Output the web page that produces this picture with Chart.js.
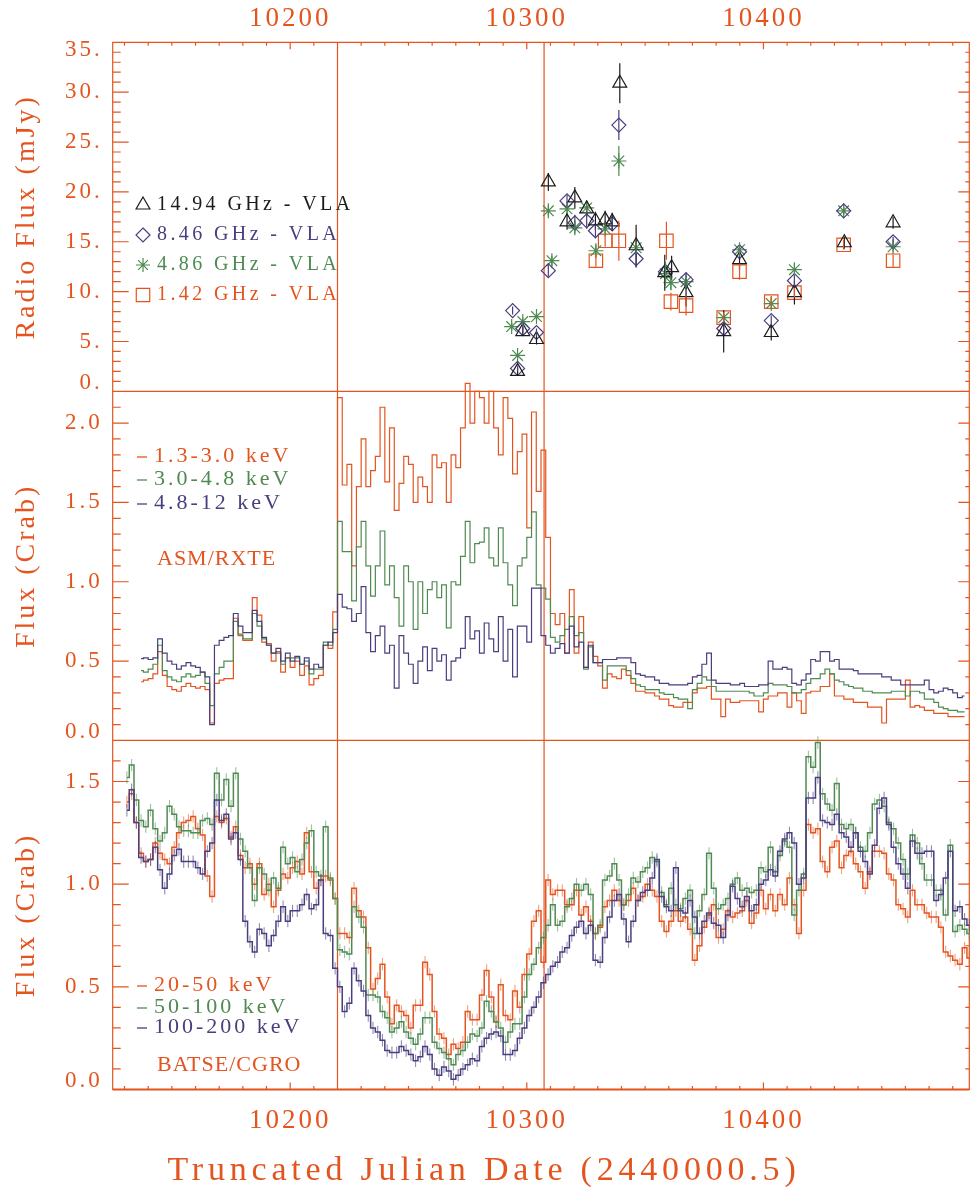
<!DOCTYPE html>
<html>
<head>
<meta charset="utf-8">
<script src="https://cdn.jsdelivr.net/npm/chart.js@4.4.1/dist/chart.umd.min.js"></script>
<style>
  html, body { margin: 0; padding: 0; background: #ffffff; }
  canvas { display: block; }
</style>
</head>
<body>
<canvas id="lc" width="980" height="1187"></canvas>
<script>
// ---------------- Time axis ----------------
const xMin = 10125;
const xMax = 10487;
const xTickLabels = [10200, 10300, 10400];
const eventDays = [10220.0, 10307.3];

// ---------------- VLA radio flux densities (mJy) ----------------
const vla1494Days = [10296.1, 10298.3, 10304.1, 10309.1, 10317.0, 10320.3, 10325.3, 10329.0, 10333.1, 10336.1, 10339.3, 10346.2, 10358.3, 10361.2, 10367.3, 10383.2, 10389.9, 10403.3, 10413.1, 10434.2, 10454.8];
const vla1494Flux = [2.0, 6.0, 5.2, 21.0, 17.0, 19.4, 18.3, 17.1, 17.2, 17.0, 30.9, 14.6, 11.9, 12.4, 9.9, 6.0, 13.2, 5.9, 9.9, 14.9, 16.9];
const vla1494Err  = [0.4, 0.4, 0.5, 0.9, 0.8, 1.1, 0.8, 0.9, 0.9, 0.9, 2.0, 2.1, 1.8, 1.2, 1.4, 2.1, 1.0, 0.8, 1.2, 0.6, 0.6];

const vla846Days = [10294.0, 10296.1, 10298.3, 10304.1, 10309.1, 10317.0, 10320.3, 10325.3, 10329.0, 10336.1, 10338.9, 10346.2, 10358.6, 10367.3, 10383.2, 10389.9, 10403.3, 10413.1, 10433.9, 10454.8];
const vla846Flux = [8.1, 2.3, 6.3, 5.9, 12.1, 19.1, 16.9, 17.1, 16.1, 16.8, 26.7, 13.3, 12.0, 11.2, 6.3, 14.0, 7.1, 11.1, 18.1, 15.0];
const vla846Err  = [0.4, 0.3, 0.4, 0.4, 0.6, 0.6, 0.8, 0.8, 0.6, 0.6, 1.5, 0.9, 0.9, 0.7, 0.5, 0.6, 0.5, 0.6, 0.4, 0.5];

const vla486Days = [10293.6, 10296.1, 10298.3, 10304.1, 10309.1, 10310.6, 10317.0, 10320.3, 10325.3, 10329.2, 10333.1, 10338.9, 10346.2, 10358.6, 10360.9, 10367.3, 10383.2, 10389.9, 10403.3, 10413.1, 10433.9, 10454.8];
const vla486Flux = [6.5, 3.6, 7.0, 7.5, 18.1, 13.1, 18.3, 16.4, 18.4, 14.1, 16.3, 23.1, 14.4, 11.8, 10.9, 11.0, 7.4, 14.2, 8.8, 12.2, 18.1, 14.5];
const vla486Err  = [0.4, 0.3, 0.4, 0.4, 0.5, 0.5, 0.5, 0.6, 0.5, 0.6, 0.6, 1.5, 0.6, 1.2, 0.7, 0.6, 0.5, 0.6, 0.5, 0.6, 0.4, 0.5];

const vla142Days = [10329.2, 10333.1, 10338.9, 10359.0, 10360.9, 10367.3, 10383.2, 10389.9, 10403.3, 10413.1, 10433.9, 10454.8];
const vla142Flux = [13.1, 15.1, 15.1, 15.1, 9.0, 8.6, 7.4, 12.0, 9.0, 9.9, 14.7, 13.1];
const vla142Err  = [0.6, 0.6, 2.0, 1.9, 0.9, 1.0, 0.5, 0.8, 0.5, 0.5, 0.5, 0.6];

// ---------------- ASM/RXTE (Crab), 2-day bins ----------------
const asmFirstDay = 10137;
const asmBinDays = 2;
const asmSoft = [ // 1.3-3.0 keV
  0.37,0.38,0.39,0.42,0.56,0.41,0.34,0.32,0.31,0.34,
  0.36,0.34,0.33,0.34,0.32,0.11,0.36,0.38,0.39,0.39,
  0.77,0.66,0.63,0.63,0.90,0.79,0.62,0.61,0.50,0.56,
  0.43,0.52,0.46,0.50,0.41,0.47,0.35,0.39,0.41,0.60,
  0.58,0.81,
  2.16,1.61,1.74,1.10,1.60,1.90,1.60,1.70,1.79,2.10,
  1.63,1.97,1.45,1.62,1.79,1.74,1.50,1.66,1.60,1.50,
  1.80,1.72,1.75,1.50,1.80,1.72,1.97,2.25,2.00,2.20,
  2.16,2.00,2.20,1.97,1.80,2.16,2.03,1.68,1.82,1.93,
  1.34,2.07,1.57,1.83,1.28,0.80,0.73,
  0.80,0.55,0.95,0.55,0.78,0.46,0.62,0.53,0.47,0.33,
  0.42,0.40,0.39,0.45,0.41,0.36,0.31,0.31,0.30,0.30,
  0.28,0.26,0.26,0.22,0.21,0.21,0.24,0.24,0.30,0.33,
  0.33,0.34,0.26,0.26,0.15,0.26,0.24,0.24,0.25,0.25,
  0.25,0.25,0.18,0.26,0.28,0.28,0.30,0.30,0.21,0.30,
  0.25,0.17,0.30,0.31,0.31,0.34,0.34,0.42,0.28,0.28,
  0.26,0.26,0.24,0.24,0.24,0.21,0.21,0.21,0.11,0.26,
  0.26,0.26,0.26,0.38,0.21,0.22,0.21,0.19,0.19,0.17,
  0.17,0.17,0.15,0.15,0.15,0.15
];
const asmMid = [ // 3.0-4.8 keV
  0.44,0.43,0.45,0.48,0.60,0.44,0.40,0.38,0.37,0.40,
  0.42,0.40,0.41,0.43,0.36,0.22,0.42,0.46,0.50,0.50,
  0.75,0.67,0.64,0.64,0.80,0.72,0.64,0.60,0.55,0.55,
  0.48,0.52,0.52,0.52,0.48,0.50,0.42,0.45,0.45,0.62,
  0.60,0.70,
  1.38,1.19,1.19,0.88,1.22,1.38,1.10,0.91,1.10,1.32,
  0.98,1.10,0.90,0.72,1.10,1.00,0.70,1.00,0.80,0.95,
  1.00,0.90,0.98,0.71,1.00,0.98,1.16,1.38,1.12,1.24,
  1.25,1.34,1.15,1.10,1.34,1.12,0.98,0.85,1.10,1.15,
  1.28,1.44,0.98,0.96,0.89,0.65,0.62,
  0.66,0.70,0.78,0.66,0.68,0.45,0.59,0.49,0.49,0.38,
  0.47,0.47,0.47,0.47,0.44,0.39,0.35,0.34,0.32,0.32,
  0.32,0.30,0.29,0.29,0.27,0.26,0.26,0.20,0.32,0.36,
  0.40,0.38,0.34,0.31,0.31,0.31,0.31,0.31,0.31,0.31,
  0.30,0.28,0.28,0.30,0.36,0.35,0.35,0.35,0.34,0.30,
  0.30,0.32,0.36,0.39,0.39,0.42,0.45,0.42,0.38,0.37,
  0.35,0.34,0.33,0.33,0.31,0.31,0.30,0.30,0.30,0.30,
  0.31,0.31,0.31,0.28,0.31,0.31,0.30,0.26,0.26,0.24,
  0.21,0.20,0.19,0.19,0.18,0.18
];
const asmHard = [ // 4.8-12 keV
  0.515,0.52,0.51,0.52,0.64,0.55,0.50,0.48,0.45,0.47,
  0.49,0.47,0.46,0.43,0.40,0.10,0.60,0.63,0.65,0.66,
  0.80,0.72,0.68,0.68,0.82,0.75,0.65,0.60,0.55,0.58,
  0.50,0.55,0.50,0.53,0.48,0.52,0.45,0.48,0.46,0.60,
  0.62,0.68,
  0.92,0.84,0.83,0.75,0.80,0.97,0.68,0.56,0.66,0.72,
  0.55,0.60,0.33,0.66,0.55,0.48,0.36,0.50,0.59,0.44,
  0.58,0.50,0.54,0.38,0.50,0.52,0.58,0.78,0.64,0.69,
  0.55,0.74,0.64,0.56,0.78,0.50,0.70,0.40,0.72,0.72,
  0.62,0.96,0.96,0.66,0.60,0.55,0.58,
  0.61,0.55,0.72,0.59,0.62,0.46,0.60,0.49,0.49,0.51,
  0.51,0.51,0.52,0.52,0.52,0.49,0.42,0.41,0.40,0.40,
  0.38,0.36,0.36,0.35,0.35,0.35,0.35,0.36,0.40,0.41,
  0.48,0.55,0.38,0.36,0.36,0.36,0.35,0.35,0.36,0.34,
  0.34,0.34,0.35,0.35,0.50,0.45,0.45,0.46,0.45,0.36,
  0.35,0.38,0.42,0.51,0.50,0.56,0.56,0.50,0.51,0.45,
  0.45,0.45,0.44,0.42,0.42,0.42,0.42,0.42,0.40,0.40,
  0.38,0.38,0.35,0.35,0.35,0.35,0.35,0.38,0.32,0.30,
  0.31,0.33,0.32,0.30,0.27,0.28
];

// ---------------- BATSE/CGRO (Crab), 2-day bins ----------------
const batseFirstDay = 10131;
const batseBinDays = 2;
const batseErr = 0.03;
const batseLow = [ // 20-50 keV
  1.40,1.44,1.30,1.15,1.11,1.12,1.20,1.15,1.12,1.10,
  1.18,1.25,1.30,1.31,1.33,1.27,1.24,1.04,0.94,1.33,
  1.30,1.32,1.23,1.28,1.14,1.08,1.10,1.00,1.10,0.95,
  1.00,0.89,0.97,1.05,1.03,1.08,1.11,1.05,1.25,1.06,
  0.98,1.02,1.04,1.02,0.93,0.76,
  0.76,0.74,0.98,0.87,0.84,0.69,0.49,0.54,0.61,0.45,
  0.32,0.41,0.38,0.36,0.30,0.41,0.41,0.62,0.56,0.38,
  0.27,0.25,0.17,0.22,0.20,0.23,0.38,0.34,0.34,0.46,
  0.58,0.45,0.33,0.51,0.36,0.34,0.48,0.40,0.56,0.66,
  0.82,0.87,0.62,1.02,0.95,0.97,0.97,0.90,0.90,0.97,
  0.85,
  0.89,0.82,0.76,0.79,0.89,0.92,0.97,0.92,0.90,0.92,
  0.98,0.92,0.94,1.00,0.97,0.94,0.82,0.77,0.82,0.87,
  0.82,0.84,0.78,0.63,0.70,0.79,0.85,0.90,0.74,0.78,
  0.87,0.84,0.86,0.87,0.92,0.81,0.86,0.97,0.88,0.95,
  0.87,0.95,0.90,1.03,0.90,0.76,0.97,1.29,1.25,1.27,
  1.11,1.06,1.18,1.21,1.08,1.14,1.16,1.10,1.06,0.98,
  1.06,1.16,1.16,1.15,1.05,1.02,0.90,0.88,0.84,0.97,
  0.90,0.90,0.86,0.84,0.84,0.79,0.67,0.65,0.63,0.61,
  0.69,0.64
];
const batseMid = [ // 50-100 keV
  1.52,1.58,1.41,1.31,1.28,1.36,1.27,1.21,1.25,1.38,
  1.34,1.28,1.26,1.26,1.25,1.25,1.31,1.32,1.29,1.54,
  1.41,1.51,1.38,1.54,1.22,1.16,1.08,0.92,1.08,1.05,
  0.97,1.03,0.98,1.18,1.10,1.13,1.06,1.12,1.20,1.26,
  1.06,1.04,1.28,1.03,0.93,0.68,
  0.67,0.66,0.89,0.84,0.79,0.46,0.46,0.45,0.38,0.35,
  0.28,0.30,0.33,0.28,0.25,0.22,0.27,0.35,0.35,0.23,
  0.20,0.18,0.15,0.12,0.17,0.19,0.23,0.27,0.26,0.30,
  0.43,0.38,0.33,0.30,0.23,0.28,0.32,0.32,0.45,0.56,
  0.61,0.69,0.74,0.80,0.90,0.80,0.82,0.89,0.93,1.00,
  0.97,
  1.00,0.95,0.76,0.80,1.02,1.04,1.10,1.02,0.90,0.95,
  1.03,1.01,1.06,1.08,1.13,1.11,0.96,0.90,0.98,0.90,
  0.88,0.93,0.97,0.76,0.87,0.95,1.15,0.98,0.88,0.90,
  0.93,1.00,1.03,0.97,0.98,0.96,0.97,1.08,1.06,1.18,
  1.06,1.14,1.21,1.18,0.85,0.97,1.05,1.62,1.57,1.69,
  1.44,1.39,1.36,1.49,1.29,1.27,1.29,1.25,1.18,1.16,
  1.25,1.39,1.41,1.38,1.30,1.27,1.20,1.12,1.05,1.24,
  1.20,1.10,1.02,1.02,0.97,0.97,0.85,1.19,0.77,0.80,
  0.78,0.76
];
const batseHigh = [ // 100-200 keV
  1.36,1.46,1.30,1.13,1.11,1.12,1.18,1.07,0.98,1.05,
  1.14,1.17,1.11,1.11,1.11,1.08,1.05,1.16,1.20,1.41,
  1.31,1.34,1.22,1.25,1.12,0.82,0.72,0.67,0.78,0.76,
  0.70,0.75,0.82,0.89,0.82,0.87,0.87,0.90,0.95,0.88,
  0.90,1.02,0.76,0.75,0.59,0.50,
  0.38,0.42,0.59,0.53,0.48,0.36,0.30,0.28,0.24,0.19,
  0.18,0.18,0.21,0.19,0.17,0.14,0.16,0.21,0.17,0.10,
  0.07,0.11,0.09,0.05,0.07,0.10,0.12,0.15,0.14,0.21,
  0.25,0.27,0.28,0.26,0.17,0.17,0.19,0.25,0.30,0.36,
  0.40,0.45,0.52,0.56,0.60,0.62,0.67,0.69,0.75,0.79,
  0.82,
  0.76,0.80,0.63,0.62,0.74,0.84,0.92,0.95,0.83,0.72,
  0.82,0.92,0.96,0.97,1.03,1.12,0.94,0.89,0.87,1.08,
  0.87,0.86,0.92,0.84,0.76,0.82,0.86,0.81,0.80,0.74,
  0.85,0.99,0.93,0.89,0.94,0.87,0.90,1.00,1.02,1.07,
  1.04,1.16,1.22,1.25,1.20,1.00,1.03,1.42,1.42,1.52,
  1.31,1.30,1.29,1.34,1.25,1.23,1.18,1.25,1.16,1.11,
  1.05,1.19,1.37,1.42,1.29,1.18,1.10,1.05,0.98,1.21,
  1.15,1.15,1.16,1.16,0.92,0.95,1.03,1.16,0.87,0.89,
  0.83,0.80
];

// ---------------- Y tick values per panel ----------------
const radioTickValues = [0, 5, 10, 15, 20, 25, 30, 35];
const asmTickValues = [0, 0.5, 1.0, 1.5, 2.0];
const batseTickValues = [0, 0.5, 1.0, 1.5];

// ---------------- Styling ----------------
const ORANGE = '#e4541f';
const GREEN = '#4f8a52';
const PURPLE = '#4a3e7e';
const BLACK = '#1c1c1c';
const SERIF = '"Liberation Serif", "Times New Roman", serif';
const PLOT_BOX = { left: 112.7, right: 978.5, top: 42.3, bottom: 1089.5 };

Chart.defaults.font.family = SERIF;
Chart.defaults.color = ORANGE;

function binCentres(first, width, n) {
  const out = [];
  for (let i = 0; i < n; i++) out.push(first + i * width);
  return out;
}
function pairs(days, values) {
  return values.map((v, i) => ({ x: days[i], y: v }));
}

const asmDays = binCentres(asmFirstDay, asmBinDays, asmSoft.length);
const batseDays = binCentres(batseFirstDay, batseBinDays, batseLow.length);

function radioSet(label, days, flux, err, style, radius, colour) {
  return {
    label, data: pairs(days, flux), yAxisID: 'yRadio', showLine: false,
    pointStyle: style, pointRadius: radius, pointHoverRadius: radius,
    borderColor: colour, pointBorderColor: colour,
    backgroundColor: 'rgba(0,0,0,0)', pointBackgroundColor: 'rgba(0,0,0,0)',
    pointBorderWidth: 1.2, errorBars: err, errorColour: colour, order: 0
  };
}
function asmSet(label, values, colour, order) {
  return {
    label, data: pairs(asmDays, values), yAxisID: 'yAsm', stepped: 'middle',
    borderColor: colour, borderWidth: 1.2, pointRadius: 0, fill: false, order,
    clip: { left: 0, right: 0, top: false, bottom: 0 }
  };
}
function batseSet(label, values, colour, errColour, order) {
  return {
    label, data: pairs(batseDays, values), yAxisID: 'yBatse', stepped: 'middle',
    borderColor: colour, borderWidth: 1.5, pointRadius: 0, fill: false, order,
    errorBar: batseErr, errorColour: errColour, errorWidth: 1.1
  };
}

const datasets = [
  radioSet('14.94 GHz - VLA', vla1494Days, vla1494Flux, vla1494Err, 'triangle', 8, BLACK),
  radioSet('8.46 GHz - VLA', vla846Days, vla846Flux, vla846Err, 'rectRot', 7, PURPLE),
  radioSet('4.86 GHz - VLA', vla486Days, vla486Flux, vla486Err, 'star', 7.5, GREEN),
  radioSet('1.42 GHz - VLA', vla142Days, vla142Flux, vla142Err, 'rect', 9.5, ORANGE),
  asmSet('1.3-3.0 keV', asmSoft, ORANGE, 3),
  asmSet('3.0-4.8 keV', asmMid, GREEN, 2),
  asmSet('4.8-12 keV', asmHard, PURPLE, 1),
  batseSet('20-50 keV', batseLow, ORANGE, 'rgba(228,84,31,0.55)', 3),
  batseSet('50-100 keV', batseMid, GREEN, 'rgba(79,138,82,0.55)', 2),
  batseSet('100-200 keV', batseHigh, PURPLE, 'rgba(74,62,126,0.6)', 1)
];

// ---------------- Plugins ----------------
const textSpacing = {
  id: 'textSpacing',
  beforeDraw(chart) { chart.ctx.letterSpacing = '3px'; }
};

// keep the end labels of each panel inside its own frame
const edgeLabels = {
  id: 'edgeLabels',
  beforeDraw(chart) {
    for (const id of ['yRadio', 'yAsm', 'yBatse']) {
      const s = chart.scales[id];
      const items = s.getLabelItems(chart.chartArea);
      items.forEach((it, i) => {
        const tick = s.ticks[i];
        if (!tick) return;
        if (tick.value === s.max) it.options.translation[1] += 8;
        if (tick.value === s.min) it.options.translation[1] -= 8.5;
      });
    }
  }
};

function line(ctx, x1, y1, x2, y2) { ctx.moveTo(x1, y1); ctx.lineTo(x2, y2); }

const panelFrames = {
  id: 'panelFrames',
  beforeDatasetsDraw(chart) {
    const { ctx, chartArea: ca, scales } = chart;
    const xs = scales.x;
    ctx.save();
    ctx.strokeStyle = ORANGE;
    ctx.lineWidth = 1.2;
    ctx.beginPath();
    // event markers through all three panels
    for (const d of eventDays) {
      const px = xs.getPixelForValue(d);
      line(ctx, px, ca.top, px, ca.bottom);
    }
    // panel borders
    for (const id of ['yRadio', 'yAsm', 'yBatse']) {
      const s = scales[id];
      ctx.rect(ca.left, s.top, ca.right - ca.left, s.bottom - s.top);
    }
    // x ticks on the outer top and bottom edges
    const top = scales.yRadio.top, bottom = scales.yBatse.bottom;
    for (let d = Math.ceil(xMin / 10) * 10; d <= xMax; d += 10) {
      const px = xs.getPixelForValue(d);
      const len = d % 100 === 0 ? 7 : 3.5;
      line(ctx, px, top, px, top + len);
      line(ctx, px, bottom, px, bottom - len);
    }
    // y ticks, left (long) and right (short)
    const panels = [
      { s: scales.yRadio, major: radioTickValues[1] - radioTickValues[0], minor: 1 },
      { s: scales.yAsm, major: asmTickValues[1] - asmTickValues[0], minor: 0.1 },
      { s: scales.yBatse, major: batseTickValues[1] - batseTickValues[0], minor: 0.1 }
    ];
    for (const p of panels) {
      const n = Math.round((p.s.max - p.s.min) / p.minor);
      for (let i = 0; i <= n; i++) {
        const v = p.s.min + i * p.minor;
        const py = p.s.getPixelForValue(v);
        const r = v / p.major;
        const isMajor = Math.abs(r - Math.round(r)) < 1e-6;
        line(ctx, ca.left, py, ca.left + (isMajor ? 16 : 8), py);
        line(ctx, ca.right, py, ca.right - (isMajor ? 11 : 4), py);
      }
    }
    ctx.stroke();
    // heavier bottom axis
    ctx.beginPath();
    ctx.lineWidth = 2;
    line(ctx, ca.left, bottom, ca.right, bottom);
    ctx.stroke();
    ctx.restore();
  }
};

const errorBars = {
  id: 'errorBars',
  afterDatasetsDraw(chart) {
    const ctx = chart.ctx;
    chart.data.datasets.forEach((ds, i) => {
      if (!ds.errorBars && ds.errorBar === undefined) return;
      const meta = chart.getDatasetMeta(i);
      const ys = chart.scales[ds.yAxisID];
      ctx.save();
      ctx.strokeStyle = ds.errorColour;
      ctx.lineWidth = ds.errorWidth || 1.2;
      ctx.beginPath();
      meta.data.forEach((el, j) => {
        const e = ds.errorBars ? ds.errorBars[j] : ds.errorBar;
        const v = ds.data[j].y;
        ctx.moveTo(el.x, ys.getPixelForValue(v + e));
        ctx.lineTo(el.x, ys.getPixelForValue(v - e));
      });
      ctx.stroke();
      ctx.restore();
    });
  }
};

function symbol(ctx, kind, x, y, r, colour) {
  ctx.save();
  ctx.strokeStyle = colour;
  ctx.lineWidth = 1.2;
  ctx.beginPath();
  if (kind === 'triangle') {
    ctx.moveTo(x, y - r);
    ctx.lineTo(x + r * Math.cos(Math.PI / 6), y + r / 2);
    ctx.lineTo(x - r * Math.cos(Math.PI / 6), y + r / 2);
    ctx.closePath();
  } else if (kind === 'rectRot') {
    ctx.moveTo(x, y - r); ctx.lineTo(x + r, y); ctx.lineTo(x, y + r); ctx.lineTo(x - r, y); ctx.closePath();
  } else if (kind === 'star') {
    for (let k = 0; k < 4; k++) {
      const a = k * Math.PI / 4;
      ctx.moveTo(x - r * Math.cos(a), y - r * Math.sin(a));
      ctx.lineTo(x + r * Math.cos(a), y + r * Math.sin(a));
    }
  } else {
    const h = r * Math.SQRT1_2;
    ctx.rect(x - h, y - h, 2 * h, 2 * h);
  }
  ctx.stroke();
  ctx.restore();
}

function text(ctx, str, x, y, colour, size, spacing, align, baseline) {
  ctx.save();
  ctx.font = size + 'px ' + SERIF;
  ctx.letterSpacing = spacing + 'px';
  ctx.fillStyle = colour;
  ctx.textAlign = align || 'left';
  ctx.textBaseline = baseline || 'middle';
  ctx.fillText(str, x, y);
  ctx.restore();
}

const annotations = {
  id: 'annotations',
  afterDraw(chart) {
    const ctx = chart.ctx;
    // radio key
    const radioKey = [
      ['triangle', 8, BLACK, '14.94 GHz - VLA', 205],
      ['rectRot', 7, PURPLE, '8.46 GHz - VLA', 235],
      ['star', 7, GREEN, '4.86 GHz - VLA', 265],
      ['rect', 9.5, ORANGE, '1.42 GHz - VLA', 295]
    ];
    for (const [kind, r, c, label, y] of radioKey) {
      symbol(ctx, kind, 143, y, r, c);
      text(ctx, label, 157, y, c, 20, 3.4);
    }
    // x-ray keys
    const keys = [
      [ORANGE, '1.3-3.0 keV', 456], [GREEN, '3.0-4.8 keV', 479], [PURPLE, '4.8-12 keV', 503],
      [ORANGE, '20-50 keV', 985], [GREEN, '50-100 keV', 1007], [PURPLE, '100-200 keV', 1027]
    ];
    for (const [c, label, y] of keys) {
      ctx.save();
      ctx.strokeStyle = c; ctx.lineWidth = 1.3;
      ctx.beginPath(); ctx.moveTo(137, y + 1); ctx.lineTo(147, y + 1); ctx.stroke();
      ctx.restore();
      text(ctx, label, 154, y, c, 22, 3);
    }
    text(ctx, 'ASM/RXTE', 157, 559, ORANGE, 22, 1);
    text(ctx, 'BATSE/CGRO', 157, 1065, ORANGE, 22, 1);
    // time axis title
    text(ctx, 'Truncated Julian Date (2440000.5)', 484, 1180, ORANGE, 34, 4.8, 'center', 'alphabetic');
  }
};

// ---------------- Scales ----------------
function noEdgePadding(s) {
  s.paddingLeft = 0; s.paddingRight = 0; s.paddingTop = 0; s.paddingBottom = 0;
}
function xScale(position, pad, height) {
  return {
    type: 'linear', position, min: xMin, max: xMax,
    grid: { display: false, drawTicks: false }, border: { display: false },
    ticks: { font: { size: 27 }, color: ORANGE, padding: pad, maxRotation: 0, autoSkip: false,
             callback: v => String(v) },
    afterBuildTicks: s => { s.ticks = xTickLabels.map(v => ({ value: v })); },
    afterFit: s => { s.height = height; noEdgePadding(s); }
  };
}
function yScale(weight, max, tickValues, fmt, title) {
  return {
    type: 'linear', position: 'left', stack: 'panels', stackWeight: 1, weight,
    min: 0, max,
    grid: { display: false, drawTicks: false }, border: { display: false },
    ticks: { font: { size: 23 }, color: ORANGE, padding: 10, autoSkip: false, callback: fmt },
    afterBuildTicks: s => { s.ticks = tickValues.map(v => ({ value: v })); },
    afterFit: s => { s.width = PLOT_BOX.left; noEdgePadding(s); },
    title: { display: true, text: title, color: ORANGE, font: { size: 28 }, padding: { top: 10, bottom: 0 } }
  };
}

const chart = new Chart(document.getElementById('lc'), {
  type: 'line',
  data: { datasets },
  options: {
    responsive: false,
    animation: false,
    devicePixelRatio: 1,
    layout: { padding: { left: 0, right: 980 - PLOT_BOX.right, top: 0, bottom: 0 } },
    plugins: { legend: { display: false }, tooltip: { enabled: false } },
    scales: {
      x: xScale('bottom', 15, 1187 - PLOT_BOX.bottom),
      xTop: xScale('top', 7, PLOT_BOX.top),
      yRadio: yScale(3, 35, radioTickValues, v => v + '.', 'Radio Flux (mJy)'),
      yAsm: yScale(2, 2.2, asmTickValues, v => v.toFixed(1), 'Flux (Crab)'),
      yBatse: yScale(1, 1.7, batseTickValues, v => v.toFixed(1), 'Flux (Crab)')
    }
  },
  plugins: [textSpacing, edgeLabels, panelFrames, errorBars, annotations]
});

// settle the plot box: correct any residual layout offset on the right edge
const rightGap = chart.chartArea.right - PLOT_BOX.right;
if (Math.abs(rightGap) > 0.2) {
  chart.options.layout.padding.right += rightGap;
  chart.update();
}
</script>
</body>
</html>
